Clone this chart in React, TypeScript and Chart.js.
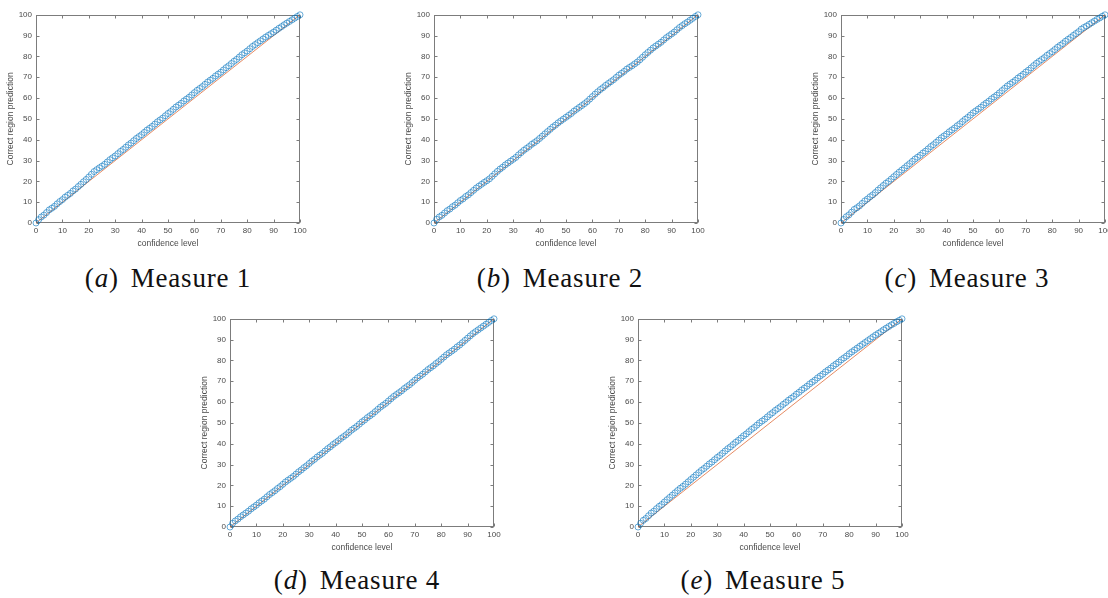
import React, { useEffect, useRef } from "react";
import { Chart, registerables } from "chart.js";

Chart.register(...registerables);

// ---------------- data ----------------
const confidenceLevels = [
  0, 1, 2, 3, 4, 5, 6, 7, 8, 9, 10,
  11, 12, 13, 14, 15, 16, 17, 18, 19, 20,
  21, 22, 23, 24, 25, 26, 27, 28, 29, 30,
  31, 32, 33, 34, 35, 36, 37, 38, 39, 40,
  41, 42, 43, 44, 45, 46, 47, 48, 49, 50,
  51, 52, 53, 54, 55, 56, 57, 58, 59, 60,
  61, 62, 63, 64, 65, 66, 67, 68, 69, 70,
  71, 72, 73, 74, 75, 76, 77, 78, 79, 80,
  81, 82, 83, 84, 85, 86, 87, 88, 89, 90,
  91, 92, 93, 94, 95, 96, 97, 98, 99, 100,
];

const measure1 = [
  0, 1.6, 2.9, 3.8, 5.0, 6.3, 7.1, 8.0, 9.2, 10.3, 11.2,
  12.4, 13.3, 14.2, 15.4, 16.3, 17.5, 18.6, 19.8, 20.9, 22.1,
  23.4, 24.7, 25.6, 26.5, 27.3, 28.2, 29.3, 30.4, 31.3, 32.2,
  33.3, 34.4, 35.3, 36.4, 37.5, 38.4, 39.5, 40.6, 41.5, 42.4,
  43.5, 44.6, 45.5, 46.4, 47.5, 48.6, 49.5, 50.4, 51.5, 52.6,
  53.5, 54.6, 55.7, 56.6, 57.5, 58.6, 59.5, 60.4, 61.5, 62.6,
  63.7, 64.6, 65.5, 66.6, 67.7, 68.6, 69.5, 70.6, 71.5, 72.4,
  73.5, 74.6, 75.5, 76.6, 77.7, 78.6, 79.7, 80.8, 81.7, 82.6,
  83.7, 84.8, 85.7, 86.6, 87.5, 88.4, 89.3, 90.1, 90.9, 91.7,
  92.6, 93.5, 94.3, 95.2, 96.0, 96.8, 97.6, 98.4, 99.2, 100,
];

const measure2 = [
  0, 1.8, 2.9, 3.7, 4.8, 5.9, 6.7, 7.8, 8.6, 9.7, 10.8,
  11.6, 12.7, 13.5, 14.6, 15.7, 16.8, 17.7, 18.6, 19.5, 20.3,
  21.2, 22.4, 23.6, 24.8, 25.9, 26.8, 27.9, 28.8, 29.7, 30.6,
  31.5, 32.7, 33.8, 34.9, 35.8, 36.7, 37.8, 38.6, 39.5, 40.6,
  41.7, 42.8, 43.9, 45.0, 46.1, 47.0, 48.1, 49.0, 49.9, 50.8,
  51.7, 52.6, 53.7, 54.6, 55.5, 56.4, 57.3, 58.3, 59.5, 60.7,
  61.9, 63.0, 64.1, 65.0, 66.1, 67.0, 67.9, 68.8, 69.9, 71.0,
  71.9, 72.8, 73.9, 74.7, 75.5, 76.4, 77.3, 78.4, 79.6, 80.8,
  81.9, 83.0, 84.1, 85.0, 85.9, 86.8, 87.9, 89.0, 89.9, 90.8,
  91.7, 92.8, 93.9, 94.8, 95.7, 96.5, 97.4, 98.3, 99.2, 100,
];

const measure3 = [
  0, 1.7, 3.0, 3.9, 5.2, 6.5, 7.3, 8.2, 9.4, 10.6, 11.5,
  12.6, 13.5, 14.6, 15.8, 16.9, 18.0, 19.1, 20.0, 21.1, 22.2,
  23.3, 24.4, 25.4, 26.4, 27.5, 28.5, 29.6, 30.7, 31.6, 32.5,
  33.6, 34.5, 35.6, 36.7, 37.6, 38.7, 39.8, 40.9, 41.8, 42.7,
  43.8, 44.7, 45.6, 46.7, 47.6, 48.7, 49.8, 50.7, 51.8, 52.9,
  53.8, 54.7, 55.6, 56.7, 57.6, 58.5, 59.6, 60.5, 61.4, 62.5,
  63.6, 64.7, 65.8, 66.7, 67.6, 68.5, 69.6, 70.5, 71.4, 72.5,
  73.4, 74.5, 75.6, 76.7, 77.6, 78.5, 79.4, 80.5, 81.4, 82.3,
  83.3, 84.4, 85.3, 86.2, 87.3, 88.2, 89.1, 90.1, 91.0, 91.9,
  93.1, 93.9, 94.6, 95.4, 96.2, 97.0, 97.8, 98.5, 99.3, 100,
];

const measure4 = [
  0, 1.8, 2.9, 3.8, 4.9, 5.8, 6.7, 7.6, 8.7, 9.6, 10.5,
  11.6, 12.5, 13.4, 14.5, 15.6, 16.5, 17.4, 18.5, 19.4, 20.5,
  21.6, 22.5, 23.4, 24.3, 25.4, 26.5, 27.4, 28.5, 29.4, 30.5,
  31.6, 32.5, 33.6, 34.5, 35.4, 36.5, 37.6, 38.5, 39.6, 40.5,
  41.4, 42.5, 43.4, 44.3, 45.4, 46.5, 47.4, 48.3, 49.4, 50.5,
  51.4, 52.5, 53.4, 54.3, 55.4, 56.5, 57.6, 58.5, 59.4, 60.5,
  61.6, 62.7, 63.6, 64.5, 65.4, 66.5, 67.4, 68.3, 69.4, 70.5,
  71.6, 72.5, 73.4, 74.5, 75.6, 76.5, 77.4, 78.5, 79.4, 80.5,
  81.6, 82.7, 83.6, 84.5, 85.4, 86.5, 87.4, 88.5, 89.6, 90.7,
  91.8, 92.9, 93.8, 94.7, 95.6, 96.5, 97.4, 98.3, 99.2, 100,
];

const measure5 = [
  0, 1.8, 3.2, 4.1, 5.4, 6.7, 7.6, 8.8, 9.9, 10.8, 12.0,
  13.1, 14.2, 15.3, 16.4, 17.5, 18.6, 19.5, 20.6, 21.7, 22.8,
  23.9, 25.0, 26.1, 27.2, 28.1, 29.2, 30.3, 31.2, 32.3, 33.4,
  34.3, 35.4, 36.5, 37.6, 38.5, 39.6, 40.7, 41.6, 42.7, 43.8,
  44.7, 45.8, 46.9, 47.8, 48.9, 50.0, 50.9, 51.8, 52.9, 54.0,
  54.9, 56.0, 56.9, 57.8, 58.9, 59.8, 60.9, 61.8, 62.7, 63.8,
  64.7, 65.8, 66.7, 67.6, 68.7, 69.6, 70.5, 71.6, 72.5, 73.4,
  74.5, 75.4, 76.3, 77.4, 78.3, 79.2, 80.3, 81.2, 82.1, 83.2,
  84.1, 85.0, 85.9, 86.8, 87.7, 88.6, 89.5, 90.4, 91.3, 92.2,
  93.0, 93.8, 94.7, 95.5, 96.3, 97.1, 97.8, 98.6, 99.3, 100,
];

const idealX = [0, 100];
const idealY = [0, 100];

const axisMin = 0;
const axisMax = 100;
const tickStep = 10;

const captionLetters = ["a", "b", "c", "d", "e"];
const captionTitles = ["Measure 1", "Measure 2", "Measure 3", "Measure 4", "Measure 5"];
const xAxisTitle = "confidence level";
const yAxisTitle = "Correct region prediction";

// ---------------- style / layout ----------------
const AXIS_COLOR = "#7c7c7c";
const TEXT_COLOR = "#4a4a4a";
const MARKER_COLOR = "rgba(0,114,189,0.75)";
const LINE_COLOR = "rgba(217,83,25,0.85)";
const SANS = '"Liberation Sans", Arial, Helvetica, sans-serif';

const PLOT_W = 264;
const PLOT_H = 209;
const PAD_LEFT = 40;
const PAD_TOP = 8;
const PAD_RIGHT = 10;
const PAD_BOTTOM = 32;

const panels = [
  { values: measure1, left: 36, top: 14, capX: 168, capY: 278 },
  { values: measure2, left: 434, top: 14, capX: 560, capY: 278 },
  { values: measure3, left: 841, top: 14, capX: 967, capY: 278 },
  { values: measure4, left: 230, top: 318, capX: 357, capY: 580 },
  { values: measure5, left: 638, top: 318, capX: 763, capY: 580 },
];

const boxPlugin = {
  id: "matlabBox",
  beforeDatasetsDraw(chart: any) {
    const { ctx, chartArea, scales } = chart;
    const xs = scales.x;
    const ys = scales.y;
    const l = Math.round(chartArea.left) + 0.5;
    const r = Math.round(chartArea.right) - 0.5;
    const t = Math.round(chartArea.top) + 0.5;
    const b = Math.round(chartArea.bottom) - 0.5;
    const len = 3;
    ctx.save();
    ctx.strokeStyle = AXIS_COLOR;
    ctx.lineWidth = 1;
    ctx.strokeRect(l, t, r - l, b - t);
    ctx.beginPath();
    xs.ticks.forEach((tk: any) => {
      const px = Math.round(xs.getPixelForValue(tk.value)) + 0.5;
      ctx.moveTo(px, b);
      ctx.lineTo(px, b - len);
      ctx.moveTo(px, t);
      ctx.lineTo(px, t + len);
    });
    ys.ticks.forEach((tk: any) => {
      const py = Math.round(ys.getPixelForValue(tk.value)) + 0.5;
      ctx.moveTo(l, py);
      ctx.lineTo(l + len, py);
      ctx.moveTo(r, py);
      ctx.lineTo(r - len, py);
    });
    ctx.stroke();
    ctx.restore();
  },
};

function Panel({ values, left, top }: { values: number[]; left: number; top: number }) {
  const ref = useRef<HTMLCanvasElement>(null);
  const cw = PLOT_W + PAD_LEFT + PAD_RIGHT;
  const chh = PLOT_H + PAD_TOP + PAD_BOTTOM;

  useEffect(() => {
    if (!ref.current) return;
    const tickFont = { family: SANS, size: 8 };
    const titleFont = { family: SANS, size: 8.5 };
    const chart = new Chart(ref.current, {
      type: "scatter",
      data: {
        datasets: [
          {
            data: confidenceLevels.map((x, i) => ({ x, y: values[i] })),
            showLine: false,
            pointStyle: "circle",
            pointRadius: 3,
            pointBorderWidth: 0.8,
            pointBorderColor: MARKER_COLOR,
            pointBackgroundColor: "rgba(0,0,0,0)",
            clip: false,
          } as any,
          {
            data: idealX.map((x, i) => ({ x, y: idealY[i] })),
            showLine: true,
            borderColor: LINE_COLOR,
            borderWidth: 0.8,
            pointRadius: 0,
            fill: false,
          } as any,
        ],
      },
      options: {
        responsive: false,
        animation: false,
        events: [],
        layout: {
          autoPadding: false,
          padding: { top: PAD_TOP, right: PAD_RIGHT, bottom: 0, left: 0 },
        } as any,
        plugins: { legend: { display: false }, tooltip: { enabled: false } },
        scales: {
          x: {
            type: "linear",
            min: axisMin,
            max: axisMax,
            grid: { display: false, drawTicks: false },
            border: { display: false },
            ticks: {
              stepSize: tickStep,
              autoSkip: false,
              maxRotation: 0,
              padding: 3,
              color: TEXT_COLOR,
              font: tickFont,
            },
            title: {
              display: true,
              text: xAxisTitle,
              color: TEXT_COLOR,
              font: titleFont,
              padding: { top: 6, bottom: 6 },
            },
            afterFit: (s: any) => {
              s.height = PAD_BOTTOM;
            },
          },
          y: {
            type: "linear",
            min: axisMin,
            max: axisMax,
            grid: { display: false, drawTicks: false },
            border: { display: false },
            ticks: {
              stepSize: tickStep,
              autoSkip: false,
              padding: 4,
              color: TEXT_COLOR,
              font: tickFont,
            },
            title: {
              display: true,
              text: yAxisTitle,
              color: TEXT_COLOR,
              font: titleFont,
              padding: { top: 10, bottom: 10 },
            },
            afterFit: (s: any) => {
              s.width = PAD_LEFT;
            },
          },
        },
      } as any,
      plugins: [boxPlugin],
    });
    return () => chart.destroy();
  }, [values]);

  return (
    <canvas
      ref={ref}
      width={cw}
      height={chh}
      style={{
        position: "absolute",
        left: left - PAD_LEFT,
        top: top - PAD_TOP,
        width: cw,
        height: chh,
      }}
    />
  );
}

export default function App() {
  return (
    <div
      style={{
        position: "fixed",
        left: 0,
        top: 0,
        width: 1108,
        height: 598,
        overflow: "hidden",
        background: "#ffffff",
      }}
    >
      {panels.map((p, i) => (
        <Panel key={i} values={p.values} left={p.left} top={p.top} />
      ))}
      {panels.map((p, i) => (
        <div
          key={"cap" + i}
          style={{
            position: "absolute",
            left: p.capX - 150,
            top: p.capY - 16,
            width: 300,
            height: 32,
            lineHeight: "32px",
            textAlign: "center",
            fontFamily: '"Liberation Serif", "Times New Roman", serif',
            fontSize: 27,
            letterSpacing: 0.8,
            color: "#111",
            whiteSpace: "nowrap",
          }}
        >
          (<i>{captionLetters[i]}</i>)
          <span style={{ display: "inline-block", width: 12 }} />
          {captionTitles[i]}
        </div>
      ))}
    </div>
  );
}
